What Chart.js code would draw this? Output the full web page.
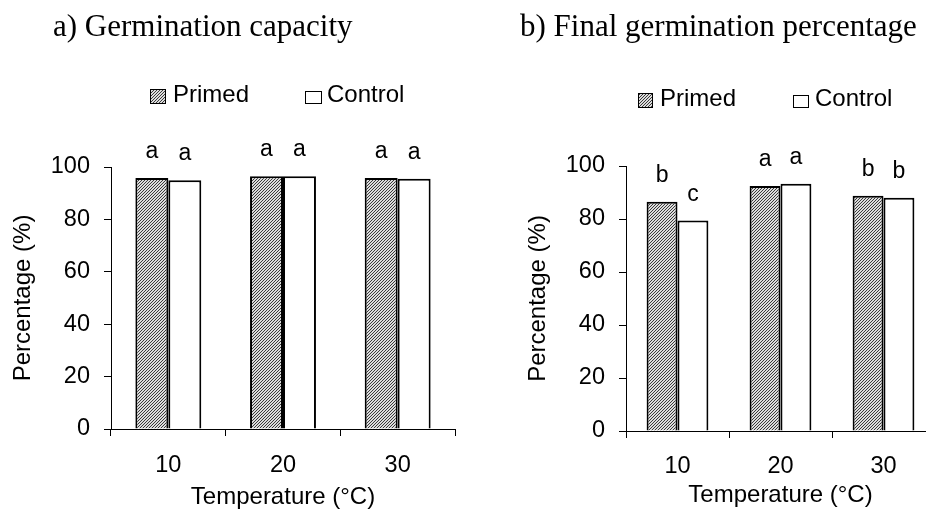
<!DOCTYPE html>
<html><head><meta charset="utf-8">
<script src="https://cdn.jsdelivr.net/npm/chart.js@4.4.1/dist/chart.umd.min.js"></script>
<style>
html,body{margin:0;padding:0;background:#fff;overflow:hidden;width:926px;height:509px;}
#wrap{position:relative;width:926px;height:509px;overflow:hidden;background:#fff;}
canvas{position:absolute;top:0;}
#c1{left:0;} #c2{left:463px;}
</style></head><body>
<div id="wrap"><canvas id="c1" width="463" height="509"></canvas><canvas id="c2" width="472" height="509"></canvas></div>
<script>
// ---- data ----
const temperatures = ['10', '20', '30'];
const seriesNames = ['Primed', 'Control'];
const capacityPrimed = [95.8, 96.5, 95.8];
const capacityControl = [94.9, 96.5, 95.5];
const capacityPrimedLetters = ['a', 'a', 'a'];
const capacityControlLetters = ['a', 'a', 'a'];
const finalPrimed = [86.5, 92.5, 88.8];
const finalControl = [79.4, 93.3, 88.0];
const finalPrimedLetters = ['b', 'a', 'b'];
const finalControlLetters = ['c', 'a', 'b'];
const yTicks = [0, 20, 40, 60, 80, 100];
const panelTitles = ['a) Germination capacity', 'b) Final germination percentage'];
const xTitle = 'Temperature (°C)';
const yTitle = 'Percentage (%)';

const SANS = '"Liberation Sans", Arial, sans-serif';
const SERIF = '"Liberation Serif", "Times New Roman", serif';

function makeHatch(ctx) {
  const n = 3;
  const t = document.createElement('canvas');
  t.width = n; t.height = n;
  const g = t.getContext('2d');
  g.fillStyle = '#dcdcdc'; g.fillRect(0, 0, n, n);
  g.fillStyle = '#3a3a3a';
  for (let y = 0; y < n; y++) for (let x = 0; x < n; x++) {
    if (((x + y) % n) === 0) g.fillRect(x, y, 1, 1);
  }
  return ctx.createPattern(t, 'repeat');
}

const decoPlugin = {
  id: 'deco',
  afterDatasetsDraw(chart, args, opts) {
    const ctx = chart.ctx;
    ctx.save();
    ctx.fillStyle = '#000';
    ctx.font = '23px ' + SANS;
    ctx.textAlign = 'center';
    ctx.textBaseline = 'alphabetic';
    chart.data.datasets.forEach((ds, di) => {
      const meta = chart.getDatasetMeta(di);
      meta.data.forEach((bar, i) => {
        ctx.fillText(ds.letters[i], bar.x, bar.y - 20);
      });
    });
    ctx.restore();
  },
  afterDraw(chart, args, opts) {
    const ctx = chart.ctx;
    ctx.save();
    ctx.fillStyle = '#000';
    ctx.font = '31px ' + SERIF;
    ctx.textAlign = 'left';
    ctx.textBaseline = 'alphabetic';
    ctx.fillText(opts.title, opts.titleX, opts.titleY);
    ctx.font = '24px ' + SANS;
    chart.data.datasets.forEach((ds, di) => {
      const L = opts.legend[di];
      ctx.fillStyle = ds.backgroundColor;
      ctx.fillRect(L.bx, L.by, L.bw, L.bh);
      ctx.strokeStyle = '#000';
      ctx.lineWidth = 1;
      ctx.strokeRect(L.bx + 0.5, L.by + 0.5, L.bw - 1, L.bh - 1);
      ctx.fillStyle = '#000';
      ctx.fillText(ds.label, L.tx, L.ty);
    });
    ctx.restore();
  }
};

function makeChart(id, primed, control, lp, lc, g) {
  const el = document.getElementById(id);
  const ctx = el.getContext('2d');
  const pattern = makeHatch(ctx);
  return new Chart(ctx, {
    type: 'bar',
    data: {
      labels: temperatures,
      datasets: [
        { label: seriesNames[0], data: primed, letters: lp, backgroundColor: pattern, borderColor: '#000', borderWidth: 2 },
        { label: seriesNames[1], data: control, letters: lc, backgroundColor: '#ffffff', borderColor: '#000', borderWidth: 2 }
      ]
    },
    options: {
      responsive: false,
      animation: false,
      events: [],
      layout: { padding: { top: g.top, left: 0, right: g.right, bottom: 0 } },
      datasets: { bar: { categoryPercentage: g.cat, barPercentage: 1 } },
      plugins: {
        legend: { display: false },
        tooltip: { enabled: false },
        title: { display: false },
        deco: { title: g.title, titleX: g.titleX, titleY: g.titleY, legend: g.legend }
      },
      scales: {
        x: {
          grid: { display: true, drawOnChartArea: false, drawTicks: true, tickLength: 7, color: '#000', lineWidth: 1, offset: true },
          border: { display: true, color: '#000', width: 1 },
          ticks: { color: '#000', font: { family: SANS, size: 23.5 }, padding: g.xTickPad, maxRotation: 0 },
          title: { display: true, text: xTitle, color: '#000', font: { family: SANS, size: 24, lineHeight: 1 }, padding: { top: 0, bottom: g.xTitlePad } },
          afterFit: (s) => { s.height = g.xH; }
        },
        y: {
          min: 0, max: 100,
          afterBuildTicks: (s) => { s.ticks = yTicks.map(v => ({ value: v })); },
          grid: { display: true, drawOnChartArea: false, drawTicks: true, tickLength: 7, color: '#000', lineWidth: 1 },
          border: { display: true, color: '#000', width: 1 },
          ticks: { color: '#000', font: { family: SANS, size: 23.5 }, padding: 14 },
          title: { display: true, text: yTitle, color: '#000', font: { family: SANS, size: 24, lineHeight: 1.2 }, padding: { top: g.yTitlePad, bottom: 0 } },
          afterFit: (s) => { s.width = g.yW; }
        }
      }
    },
    plugins: [decoPlugin]
  });
}

makeChart('c1', capacityPrimed, capacityControl, capacityPrimedLetters, capacityControlLetters, {
  top: 167, right: 8, yW: 111, xH: 80, cat: 0.575, xTickPad: 15, xTitlePad: 0, yTitlePad: 8.6,
  title: panelTitles[0], titleX: 53, titleY: 36,
  legend: [
    { bx: 150, by: 89, bw: 16, bh: 15, tx: 173, ty: 102 },
    { bx: 305, by: 91, bw: 17, bh: 13, tx: 327, ty: 102 }
  ]
});

makeChart('c2', finalPrimed, finalControl, finalPrimedLetters, finalControlLetters, {
  top: 166, right: 0, yW: 163, xH: 78, cat: 0.6, xTickPad: 14.3, xTitlePad: 2, yTitlePad: 60.6,
  title: panelTitles[1], titleX: 57, titleY: 36,
  legend: [
    { bx: 175, by: 93, bw: 15, bh: 15, tx: 197, ty: 106 },
    { bx: 330, by: 95, bw: 16, bh: 13, tx: 352, ty: 106 }
  ]
});
</script>
</body></html>
